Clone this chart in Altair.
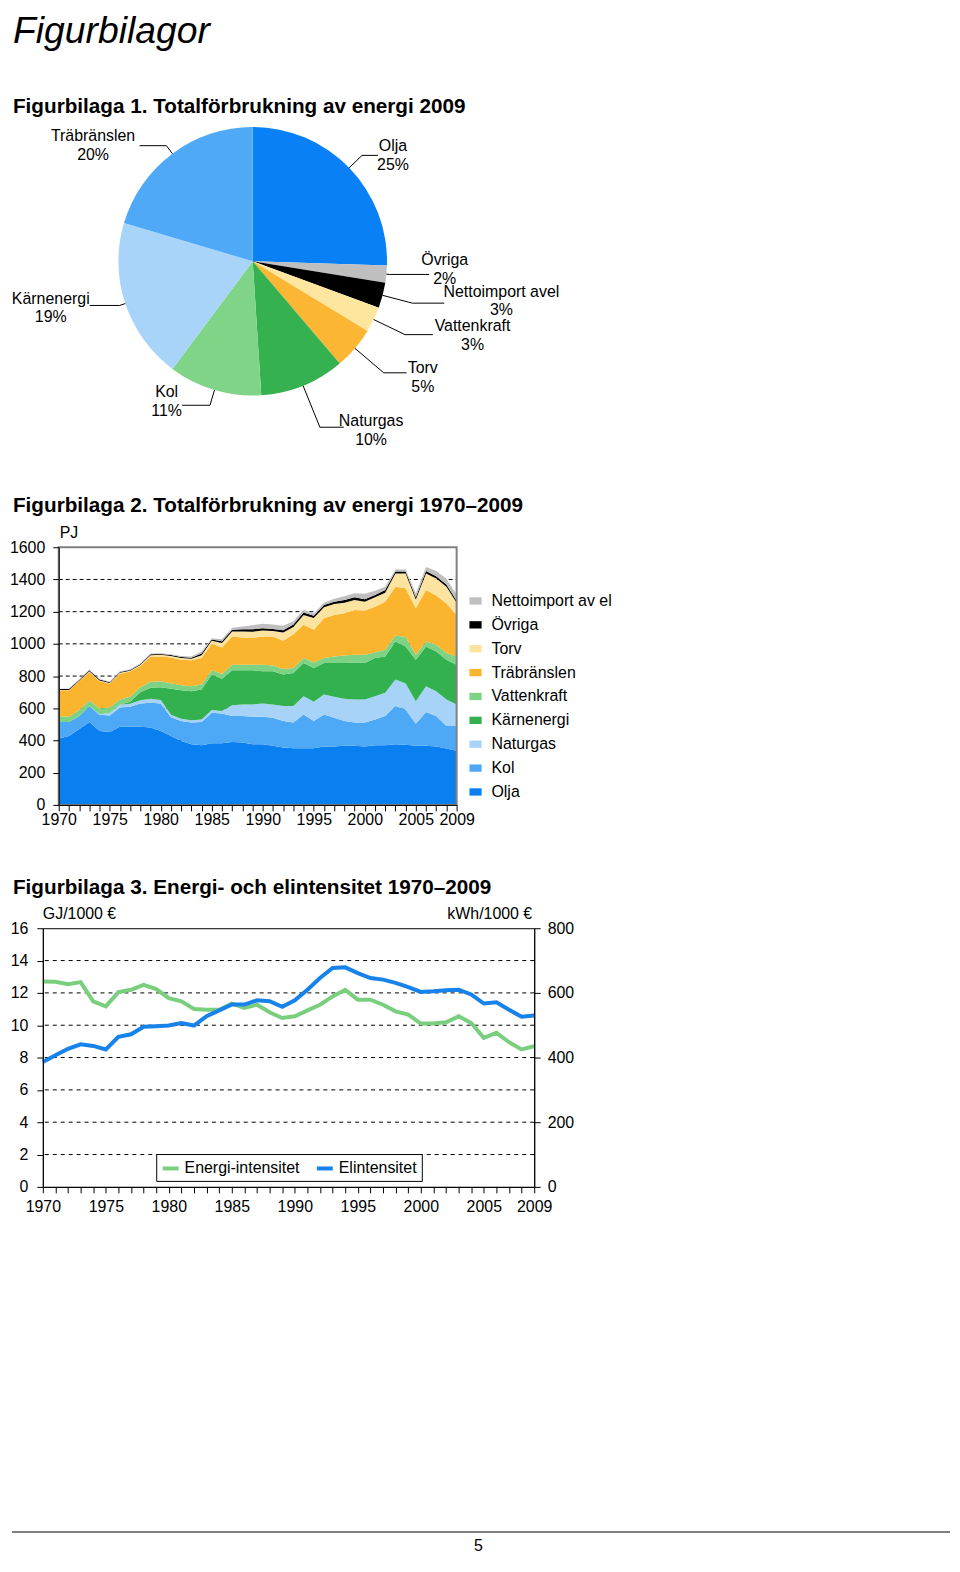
import math
import altair as alt
import pandas as pd

# ---------------- Figurbilaga 1: pie (2009, %) ----------------
pie_labels = ["Olja", "Övriga", "Nettoimport avel", "Vattenkraft", "Torv",
              "Naturgas", "Kol", "Kärnenergi", "Träbränslen"]
pie_values = [25, 2, 3, 3, 5, 10, 11, 19, 20]

# ---------------- Figurbilaga 2: stacked areas (PJ) ----------------
years = list(range(1970, 2010))
series_names = ["Olja", "Kol", "Naturgas", "Kärnenergi", "Vattenkraft",
                "Träbränslen", "Torv", "Övriga", "Nettoimport av el"]
olja = [412, 428, 469, 515, 459, 453, 486, 486, 486, 480,
        459, 428, 397, 377, 371, 383, 383, 391, 387, 377,
        377, 367, 356, 352, 352, 352, 362, 362, 367, 367,
        362, 371, 371, 377, 373, 367, 367, 362, 350, 336]
kol = [103, 87, 81, 97, 101, 102, 119, 124, 144, 154,
       171, 117, 124, 134, 144, 189, 185, 161, 165, 171,
       171, 174, 165, 159, 210, 169, 200, 179, 154, 144,
       149, 160, 181, 237, 220, 137, 210, 190, 140, 154]
naturgas = [0, 0, 0, 0, 3, 15, 17, 18, 20, 25,
            22, 15, 14, 14, 16, 17, 15, 66, 72, 76,
            82, 83, 93, 103, 113, 119, 124, 130, 138, 144,
            144, 144, 144, 164, 161, 140, 160, 154, 165, 134]
karnenergi = [0, 0, 0, 0, 0, 0, 0, 12, 50, 68,
              78, 162, 177, 181, 186, 220, 200, 218, 212, 212,
              200, 206, 195, 205, 206, 210, 195, 210, 222, 230,
              226, 237, 226, 237, 230, 258, 247, 247, 247, 247]
vattenkraft = [35, 33, 38, 36, 35, 35, 33, 32, 30, 38,
               38, 33, 31, 31, 30, 27, 30, 35, 35, 35,
               41, 35, 35, 31, 31, 35, 31, 41, 46, 48,
               52, 35, 42, 37, 58, 31, 31, 41, 41, 51]
trabranslen = [162, 164, 180, 178, 170, 147, 160, 156, 132, 155,
               154, 160, 159, 161, 165, 164, 165, 175, 169, 165,
               175, 181, 176, 210, 206, 202, 247, 258, 263, 278,
               274, 284, 298, 303, 303, 288, 319, 306, 307, 258]
torv = [2, 2, 3, 4, 4, 5, 5, 5, 6, 10,
        10, 10, 10, 10, 18, 20, 28, 31, 37, 39,
        37, 34, 51, 45, 62, 73, 69, 68, 66, 61,
        55, 58, 56, 82, 92, 54, 103, 106, 105, 75]
ovriga = [5, 5, 5, 6, 6, 5, 6, 5, 6, 5,
          5, 6, 6, 6, 10, 7, 10, 10, 14, 16,
          14, 13, 14, 15, 15, 14, 14, 14, 16, 17,
          15, 14, 16, 13, 13, 15, 15, 14, 13, 13]
nettoimport = [3, 3, 4, 4, 4, 4, 4, 4, 6, 5,
               5, 5, 7, 8, 12, 8, 12, 13, 17, 24,
               28, 27, 27, 20, 17, 16, 13, 18, 23, 26,
               35, 27, 21, 12, 12, 25, 26, 32, 37, 37]
area_ticks = [0, 200, 400, 600, 800, 1000, 1200, 1400, 1600]
area_grid = [200, 400, 600, 800, 1000, 1200, 1400]

# ---------------- Figurbilaga 3: intensities ----------------
energi_int = [12.71, 12.69, 12.54, 12.67, 11.48, 11.17, 12.05, 12.19, 12.50, 12.24,
              11.68, 11.48, 11.00, 10.96, 10.96, 11.33, 11.07, 11.27, 10.80, 10.45,
              10.55, 10.92, 11.27, 11.78, 12.19, 11.58, 11.58, 11.27, 10.86, 10.66,
              10.10, 10.10, 10.18, 10.55, 10.14, 9.22, 9.53, 8.95, 8.50, 8.71]
el_int = [386, 407, 427, 441, 436, 425, 464, 472, 495, 497,
          499, 507, 499, 528, 546, 564, 564, 577, 574, 557,
          577, 610, 646, 677, 679, 661, 646, 641, 631, 618,
          603, 605, 608, 610, 595, 567, 571, 548, 526, 530]
line_names = ["Energi-intensitet", "Elintensitet"]
left_ticks = [0, 2, 4, 6, 8, 10, 12, 14, 16]
right_ticks = [0, 200, 400, 600, 800]
line_grid = [2, 4, 6, 8, 10, 12, 14]

# ---------------- styles / layout ----------------
FONT = "Liberation Sans, Arial, sans-serif"
FS = 16
PIE_COLORS = ["#0A80F6", "#BFBFBF", "#000000", "#FFE69E", "#FBB633",
              "#35B24F", "#80D487", "#A9D4FA", "#4FA9F7"]
AREA_COLORS = ["#0A7FF0", "#4DA8F5", "#A8D3F8", "#33B14F", "#7DD284",
               "#FBB42D", "#FDE3A0", "#000000", "#BFBFBF"]
LINE_COLORS = ["#7ACF7E", "#1682EA"]
OX = 33                      # reference x of the column origin
CX, CY, R = 244 - OX, 249.5, 135
LABEL_POS = {"Olja": (385, 134), "Övriga": (437, 248),
             "Nettoimport avel": (494, 280), "Vattenkraft": (465, 315),
             "Torv": (415, 357), "Naturgas": (363, 410), "Kol": (157.5, 381),
             "Kärnenergi": (41, 287), "Träbränslen": (83.5, 124)}
LEADER = {"Olja": (18, 16), "Övriga": (3, 40), "Nettoimport avel": (31, 32),
          "Vattenkraft": (35, 28), "Torv": (38, 23), "Naturgas": (45, 24),
          "Kol": (16, -28), "Kärnenergi": (6, -30), "Träbränslen": (10, -27)}

ONE = pd.DataFrame({"k": [0]})


def txt(text, x, y, size=FS, weight="normal", style="normal", align="left",
        baseline="alphabetic"):
    return alt.Chart(ONE).mark_text(
        text=text, align=align, baseline=baseline, fontSize=size, fontWeight=weight,
        fontStyle=style, font=FONT, color="black"
    ).encode(x=alt.value(x), y=alt.value(y))


def spacer(w, h):
    return alt.Chart(ONE).mark_point(opacity=0).encode(
        x=alt.value(0), y=alt.value(0)).properties(width=w, height=h)


def axis(**kw):
    base = dict(tickSize=6, tickColor="black", domainColor="black", labelFont=FONT,
                labelFontSize=FS, labelColor="black", labelFlush=False,
                labelOverlap=False, grid=False, zindex=1)
    base.update(kw)
    return alt.Axis(**base)


# ---------------- panel A: headings + pie ----------------
pie_df = pd.DataFrame({"label": pie_labels, "value": pie_values,
                       "idx": list(range(len(pie_labels)))})
pie = alt.Chart(pie_df).mark_arc(outerRadius=R).encode(
    theta=alt.Theta("value:Q", stack=True),
    order=alt.Order("idx:Q"),
    color=alt.Color("label:N", scale=alt.Scale(domain=pie_labels, range=PIE_COLORS), legend=None),
    x=alt.value(CX), y=alt.value(CY),
)

total = sum(pie_values)
lead_rows, lab_rows = [], []
cum = 0
for lab, v in zip(pie_labels, pie_values):
    mid = (cum + v / 2) / total * 2 * math.pi
    cum += v
    ext, h = LEADER[lab]
    sx, sy = CX + R * math.sin(mid), CY - R * math.cos(mid)
    ex, ey = CX + (R + ext) * math.sin(mid), CY - (R + ext) * math.cos(mid)
    lead_rows += [{"label": lab, "s": 0, "px": sx, "py": sy},
                  {"label": lab, "s": 1, "px": ex, "py": ey},
                  {"label": lab, "s": 2, "px": ex + h, "py": ey}]
    lx, ly = LABEL_POS[lab]
    lab_rows.append({"label": lab, "txt": f"{lab}\n{v}%", "lx": lx - OX, "ly": ly})

leaders = alt.Chart(pd.DataFrame(lead_rows)).mark_line(color="black", strokeWidth=1).encode(
    x=alt.X("px:Q", scale=None), y=alt.Y("py:Q", scale=None),
    detail="label:N", order="s:Q")
pie_text = alt.Chart(pd.DataFrame(lab_rows)).mark_text(
    lineBreak="\n", align="center", baseline="middle", lineHeight=19,
    fontSize=FS, font=FONT, color="black"
).encode(x=alt.X("lx:Q", scale=None), y=alt.Y("ly:Q", scale=None), text="txt:N")

panelA = alt.layer(
    txt("Figurbilagor", 3 - OX, 30, size=37.5, style="italic"),
    txt("Figurbilaga 1. Totalförbrukning av energi 2009", 3 - OX, 100, size=20.8, weight="bold"),
    pie, leaders, pie_text,
    txt("Figurbilaga 2. Totalförbrukning av energi 1970–2009", 3 - OX, 502, size=20.8, weight="bold"),
).properties(width=560, height=537)

# ---------------- panel B: stacked area ----------------
rows = []
for k, (name, vals) in enumerate(zip(series_names, [olja, kol, naturgas, karnenergi, vattenkraft,
                                                      trabranslen, torv, ovriga, nettoimport])):
    for yr, v in zip(years, vals):
        rows.append({"year": yr, "series": name, "value": v, "k": k})
area_df = pd.DataFrame(rows)

year_label_expr = "(datum.value % 5 == 0 || datum.value == 2009) ? datum.label : ''"
xs2 = alt.Scale(domain=[1970, 2009], range=[16, 416], nice=False, zero=False)
ys2 = alt.Scale(domain=[0, 1600], nice=False)
X2_AXIS = axis(values=years, format="d", labelExpr=year_label_expr, labelPadding=1)
Y2_AXIS = axis(values=area_ticks, format="d", labelPadding=8, offset=-16)

grid2 = alt.Chart(pd.DataFrame({"v": area_grid})).mark_rule(
    color="black", strokeDash=[4, 3], strokeWidth=1
).encode(y=alt.Y("v:Q", scale=ys2, axis=Y2_AXIS, title=None),
         x=alt.XDatum(1970, scale=xs2, axis=X2_AXIS, title=None), x2=alt.X2Datum(2009))

areas = alt.Chart(area_df).transform_stack(
    stack="value", groupby=["year"], as_=["y0", "y1"],
    sort=[alt.SortField("k", order="ascending")]
).mark_area(interpolate="linear").encode(
    x=alt.X("year:Q", scale=xs2, title=None, axis=X2_AXIS),
    y=alt.Y("y0:Q", scale=ys2, title=None, axis=Y2_AXIS),
    y2="y1:Q",
    color=alt.Color("series:N",
                    scale=alt.Scale(domain=series_names[::-1], range=AREA_COLORS[::-1]),
                    legend=alt.Legend(orient="none", legendX=427, legendY=46, title=None,
                                      symbolType="M-1,-0.6H1V0.6H-1Z", symbolSize=150,
                                      symbolStrokeWidth=0, labelFont=FONT, labelFontSize=FS,
                                      labelColor="black", labelOffset=8, rowPadding=8,
                                      padding=0)),
)

frame2 = alt.Chart(ONE).mark_rect(fillOpacity=0, stroke="#808080", strokeWidth=2).encode(
    x=alt.XDatum(1970, scale=xs2, axis=X2_AXIS, title=None), x2=alt.X2Datum(2009),
    y=alt.YDatum(0, scale=ys2, axis=Y2_AXIS, title=None), y2=alt.Y2Datum(1600))

chart2 = alt.layer(
    grid2, areas, frame2, txt("PJ", 17, -14, baseline="middle")
).properties(width=416, height=259)

# ---------------- panel C: intensities ----------------
line_df = pd.DataFrame({"year": years, "energi": energi_int, "el": el_int})
cscale = alt.Scale(domain=line_names, range=LINE_COLORS)
leg3 = alt.Legend(orient="none", legendX=114, legendY=227, direction="horizontal", title=None,
                  strokeColor="black", fillColor="white", padding=4.5, symbolType="stroke",
                  symbolStrokeWidth=4, symbolSize=256, labelFont=FONT, labelFontSize=FS,
                  labelColor="black", columnPadding=9, labelOffset=4)
xs3 = alt.Scale(domain=[1970, 2009], nice=False, zero=False)
x3 = alt.X("year:Q", scale=xs3, title=None,
           axis=axis(values=years, format="d", labelExpr=year_label_expr, labelPadding=6))

grid3 = alt.Chart(pd.DataFrame({"v": line_grid})).mark_rule(
    color="black", strokeDash=[4, 4], strokeWidth=1
).encode(y=alt.Y("v:Q", scale=alt.Scale(domain=[0, 16], nice=False), axis=None))

line_e = alt.Chart(line_df).transform_calculate(s="'Energi-intensitet'").mark_line(
    strokeWidth=4).encode(
    x=x3,
    y=alt.Y("energi:Q", scale=alt.Scale(domain=[0, 16], nice=False), title=None,
            axis=axis(orient="left", values=left_ticks, labelPadding=9)),
    color=alt.Color("s:N", scale=cscale, legend=leg3),
)
line_el = alt.Chart(line_df).transform_calculate(s="'Elintensitet'").mark_line(
    strokeWidth=4).encode(
    x=x3,
    y=alt.Y("el:Q", scale=alt.Scale(domain=[0, 800], nice=False), title=None,
            axis=axis(orient="right", values=right_ticks, labelPadding=7)),
    color=alt.Color("s:N", scale=cscale, legend=leg3),
)

chart3 = alt.layer(
    grid3, line_e, line_el,
    txt("GJ/1000 €", 0, -14, baseline="middle"),
    txt("kWh/1000 €", 492, -14, baseline="middle", align="right"),
    txt("Figurbilaga 3. Energi- och elintensitet 1970–2009", 3 - OX, -34, size=20.8,
        weight="bold"),
).resolve_scale(y="independent").properties(
    width=494, height=260, view=alt.ViewBackground(stroke="black", strokeWidth=1))

# ---------------- footer ----------------
footer = alt.layer(
    alt.Chart(ONE).mark_rule(color="#808080", strokeWidth=2).encode(
        x=alt.value(-31), x2=alt.value(912), y=alt.value(347)),
    txt("5", 438, 361, size=16, align="center", baseline="middle"),
).properties(width=500, height=368)

chart = alt.vconcat(
    panelA, chart2, spacer(10, 124), chart3, footer, spacing=0, bounds="flush"
).resolve_scale(color="independent").resolve_legend(color="independent").properties(
    padding=0
).configure(font=FONT, view=alt.ViewConfig(stroke="transparent"))

chart.save("out.html", embed_options={"renderer": "svg", "actions": False})
